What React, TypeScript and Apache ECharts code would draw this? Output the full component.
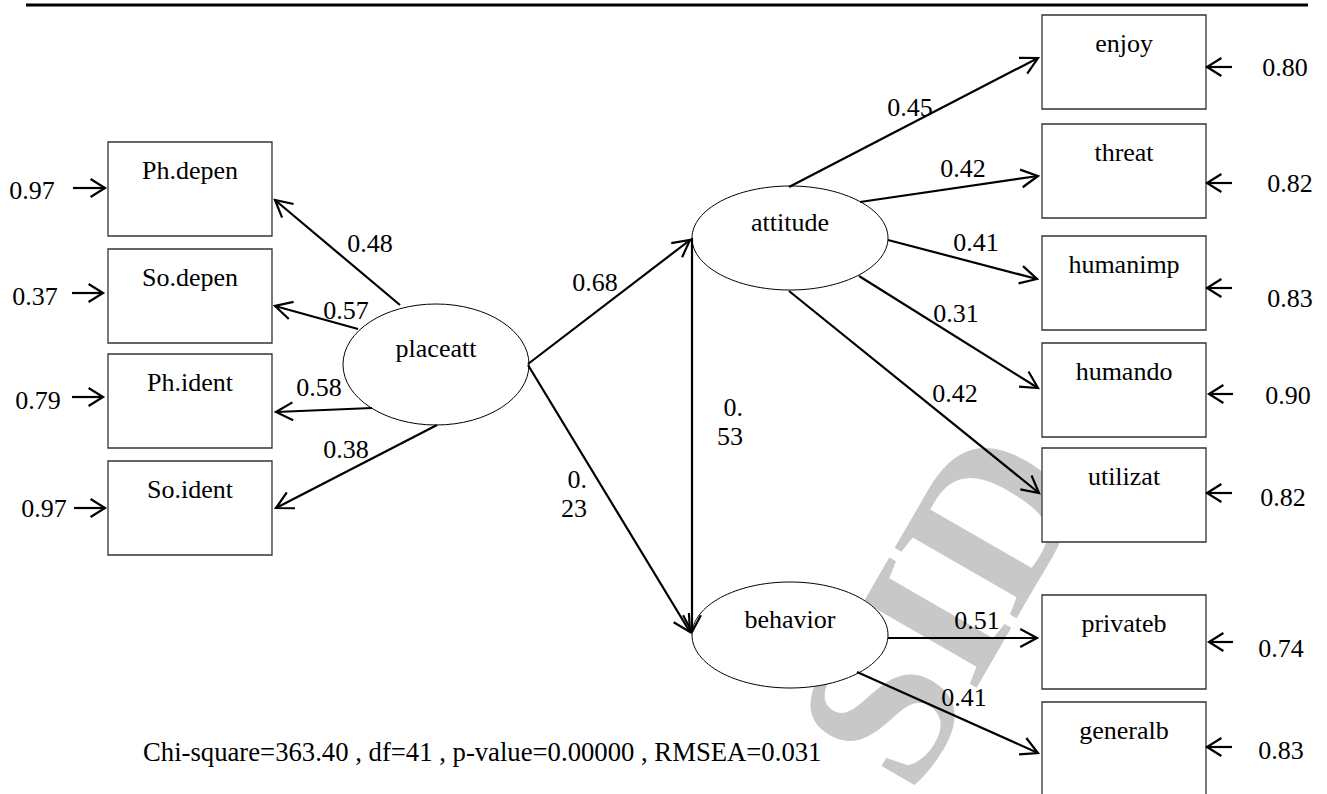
import React, { useEffect, useRef } from "react";
import * as echarts from "echarts";

// ---------------- data ----------------
const latentNames = ["placeatt", "attitude", "behavior"];
const placeIndicators = ["Ph.depen", "So.depen", "Ph.ident", "So.ident"];
const placeLoadings = [0.48, 0.57, 0.58, 0.38];
const placeErrors = [0.97, 0.37, 0.79, 0.97];
const attitudeIndicators = ["enjoy", "threat", "humanimp", "humando", "utilizat"];
const attitudeLoadings = [0.45, 0.42, 0.41, 0.31, 0.42];
const attitudeErrors = [0.8, 0.82, 0.83, 0.9, 0.82];
const behaviorIndicators = ["privateb", "generalb"];
const behaviorLoadings = [0.51, 0.41];
const behaviorErrors = [0.74, 0.83];
// placeatt->attitude, placeatt->behavior, attitude->behavior
const structuralValues = [0.68, 0.23, 0.53];
const fitLabels = ["Chi-square", "df", "p-value", "RMSEA"];
const fitValues = ["363.40", "41", "0.00000", "0.031"];

// ---------------- layout (diagram coordinates) ----------------
const W = 1327;
const H = 794;
const FAMILY = "Liberation Serif";
const FSIZE = 26;
const leftBoxX = 108;
const rightBoxX = 1042;
const boxW = 164;
const boxH = 94;
const leftBoxTops = [142, 249, 354, 461];
const rightBoxTops = [15, 124, 236, 343, 448, 595, 702];
const ellipseGeom = [
  [436, 364.5, 93, 60.5],
  [790, 238, 98, 52],
  [790, 635, 98, 53],
];
// start x, start y, tip x, tip y
const placeEdges = [
  [400, 305, 275, 200],
  [358, 329, 275, 306],
  [372, 408, 276, 412],
  [437, 425, 276, 508],
];
const structuralEdges = [
  [528, 364, 690, 240],
  [528, 365, 690, 632],
  [692, 238, 692, 632],
];
const attitudeEdges = [
  [789, 187, 1038, 58],
  [860, 202, 1038, 176],
  [888, 240, 1037, 279],
  [859, 276, 1038, 388],
  [789, 291, 1039, 493],
];
const behaviorEdges = [
  [888, 638, 1037, 638],
  [857, 672, 1038, 753],
];
const leftResidualEdges = [
  [73, 188, 105, 188],
  [72, 293, 103, 293],
  [72, 397, 103, 397],
  [74, 508, 105, 508],
];
const rightResidualEdges = [
  [1232, 67, 1207, 67],
  [1232, 183, 1207, 183],
  [1232, 288, 1207, 288],
  [1233, 394, 1209, 394],
  [1232, 493, 1207, 493],
  [1233, 642, 1209, 642],
  [1232, 747, 1207, 747],
];
const placeLoadingPos = [
  [370, 243],
  [346, 310],
  [319, 387],
  [346, 449],
];
const attitudeLoadingPos = [
  [910, 107],
  [963, 168],
  [976, 242],
  [956, 313],
  [955, 393],
];
const behaviorLoadingPos = [
  [977, 620],
  [964, 697],
];
const structuralLabelPos = [
  [595, 282, "center"],
  [587, 494, "right"],
  [743, 422, "right"],
];
const leftErrorPos = [
  [32, 190],
  [35, 296],
  [38, 400],
  [44, 508],
];
const rightErrorPos = [
  [1285, 67],
  [1290, 183],
  [1290, 298],
  [1288, 395],
  [1283, 497],
  [1281, 648],
  [1281, 750],
];
const latentLabelOffset = -16;
const boxLabelOffset = 28;
const fitPos = [143, 752];
const fitFontSize = 26.7;

const fmt = (v: number) => v.toFixed(2);

const textStyle = (text: string, align: string, size: number = FSIZE) => ({
  text,
  fontFamily: FAMILY,
  fontSize: size,
  fontWeight: "normal",
  fill: "#000",
  textAlign: align,
  textVerticalAlign: "middle",
  lineHeight: 29,
});

function arrowSeries(edges: number[][], headLen: number, headAngle: number) {
  return {
    type: "custom",
    silent: true,
    clip: false,
    z: 4,
    encode: { x: [0, 2], y: [1, 3] },
    data: edges.map((e) => [e[0], e[1], e[2], e[3]]),
    renderItem: (params: any, api: any) => {
      const a = api.coord([api.value(0), api.value(1)]);
      const b = api.coord([api.value(2), api.value(3)]);
      const dx = a[0] - b[0];
      const dy = a[1] - b[1];
      const d = Math.hypot(dx, dy) || 1;
      const ux = dx / d;
      const uy = dy / d;
      const t = (headAngle * Math.PI) / 180;
      const rot = (ang: number) => [
        b[0] + headLen * (ux * Math.cos(ang) - uy * Math.sin(ang)),
        b[1] + headLen * (ux * Math.sin(ang) + uy * Math.cos(ang)),
      ];
      return {
        type: "group",
        children: [
          {
            type: "line",
            shape: { x1: a[0], y1: a[1], x2: b[0], y2: b[1] },
            style: { stroke: "#000", lineWidth: 2.2 },
          },
          {
            type: "polyline",
            shape: { points: [rot(t), b, rot(-t)] },
            style: { stroke: "#000", lineWidth: 2.2, fill: null },
          },
        ],
      };
    },
  };
}

function textSeries(items: { x: number; y: number; text: string; align?: string; size?: number }[]) {
  return {
    type: "custom",
    silent: true,
    clip: false,
    z: 5,
    data: items.map((it) => [it.x, it.y]),
    renderItem: (params: any, api: any) => {
      const it = items[params.dataIndex];
      const p = api.coord([api.value(0), api.value(1)]);
      return {
        type: "text",
        x: p[0],
        y: p[1],
        style: textStyle(it.text, it.align || "center", it.size || FSIZE),
      };
    },
  };
}

export default function App() {
  const ref = useRef<HTMLDivElement>(null);

  useEffect(() => {
    document.body.style.margin = "0";
    const chart = echarts.init(ref.current!, undefined, { renderer: "svg" });

    const boxNames = [...placeIndicators, ...attitudeIndicators, ...behaviorIndicators];
    const boxData = [
      ...leftBoxTops.map((t) => [leftBoxX, t]),
      ...rightBoxTops.map((t) => [rightBoxX, t]),
    ];

    const loadingTexts = [
      ...placeLoadings.map((v, i) => ({ x: placeLoadingPos[i][0], y: placeLoadingPos[i][1], text: fmt(v) })),
      ...attitudeLoadings.map((v, i) => ({ x: attitudeLoadingPos[i][0], y: attitudeLoadingPos[i][1], text: fmt(v) })),
      ...behaviorLoadings.map((v, i) => ({ x: behaviorLoadingPos[i][0], y: behaviorLoadingPos[i][1], text: fmt(v) })),
      ...structuralValues.map((v, i) => {
        const s = fmt(v);
        const p = structuralLabelPos[i];
        return {
          x: p[0] as number,
          y: p[1] as number,
          text: i === 0 ? s : s.slice(0, 2) + "\n" + s.slice(2),
          align: p[2] as string,
        };
      }),
      ...placeErrors.map((v, i) => ({ x: leftErrorPos[i][0], y: leftErrorPos[i][1], text: fmt(v) })),
      ...[...attitudeErrors, ...behaviorErrors].map((v, i) => ({
        x: rightErrorPos[i][0],
        y: rightErrorPos[i][1],
        text: fmt(v),
      })),
      {
        x: fitPos[0],
        y: fitPos[1],
        text: fitLabels.map((l, i) => l + "=" + fitValues[i]).join(" , "),
        align: "left",
        size: fitFontSize,
      },
    ];

    chart.setOption({
      animation: false,
      grid: { left: 0, right: 0, top: 0, bottom: 0 },
      xAxis: { type: "value", min: 0, max: W, show: false },
      yAxis: { type: "value", min: 0, max: H, inverse: true, show: false },
      graphic: [
        {
          type: "line",
          z: 10,
          shape: { x1: 26, y1: 5, x2: 1308, y2: 5 },
          style: { stroke: "#000", lineWidth: 3 },
        },
        {
          type: "text",
          z: 0,
          x: 940,
          y: 606,
          rotation: Math.PI / 3,
          style: {
            text: "SID",
            fontFamily: FAMILY,
            fontSize: 215,
            fontWeight: "bold",
            fill: "#c8c8c8",
            textAlign: "center",
            textVerticalAlign: "middle",
          },
        },
      ],
      series: [
        {
          type: "custom",
          silent: true,
          clip: false,
          z: 3,
          data: boxData,
          renderItem: (params: any, api: any) => {
            const p = api.coord([api.value(0), api.value(1)]);
            const q = api.coord([api.value(0) + boxW, api.value(1) + boxH]);
            return {
              type: "group",
              children: [
                {
                  type: "rect",
                  shape: { x: p[0], y: p[1], width: q[0] - p[0], height: q[1] - p[1] },
                  style: { fill: "#fff", stroke: "#333", lineWidth: 1.3 },
                },
                {
                  type: "text",
                  x: (p[0] + q[0]) / 2,
                  y: p[1] + boxLabelOffset,
                  style: textStyle(boxNames[params.dataIndex], "center"),
                },
              ],
            };
          },
        },
        {
          type: "custom",
          silent: true,
          clip: false,
          z: 3,
          data: ellipseGeom.map((e) => [e[0], e[1], e[2], e[3]]),
          renderItem: (params: any, api: any) => {
            const c = api.coord([api.value(0), api.value(1)]);
            const r = api.coord([api.value(0) + api.value(2), api.value(1) + api.value(3)]);
            return {
              type: "group",
              children: [
                {
                  type: "ellipse",
                  shape: { cx: c[0], cy: c[1], rx: r[0] - c[0], ry: r[1] - c[1] },
                  style: { fill: "#fff", stroke: "#000", lineWidth: 1 },
                },
                {
                  type: "text",
                  x: c[0],
                  y: c[1] + latentLabelOffset,
                  style: textStyle(latentNames[params.dataIndex], "center"),
                },
              ],
            };
          },
        },
        arrowSeries([...placeEdges, ...structuralEdges, ...attitudeEdges, ...behaviorEdges], 19, 28),
        arrowSeries([...leftResidualEdges, ...rightResidualEdges], 17, 32),
        textSeries(loadingTexts),
      ],
    });

    return () => chart.dispose();
  }, []);

  return <div ref={ref} style={{ width: W, height: H }} />;
}
